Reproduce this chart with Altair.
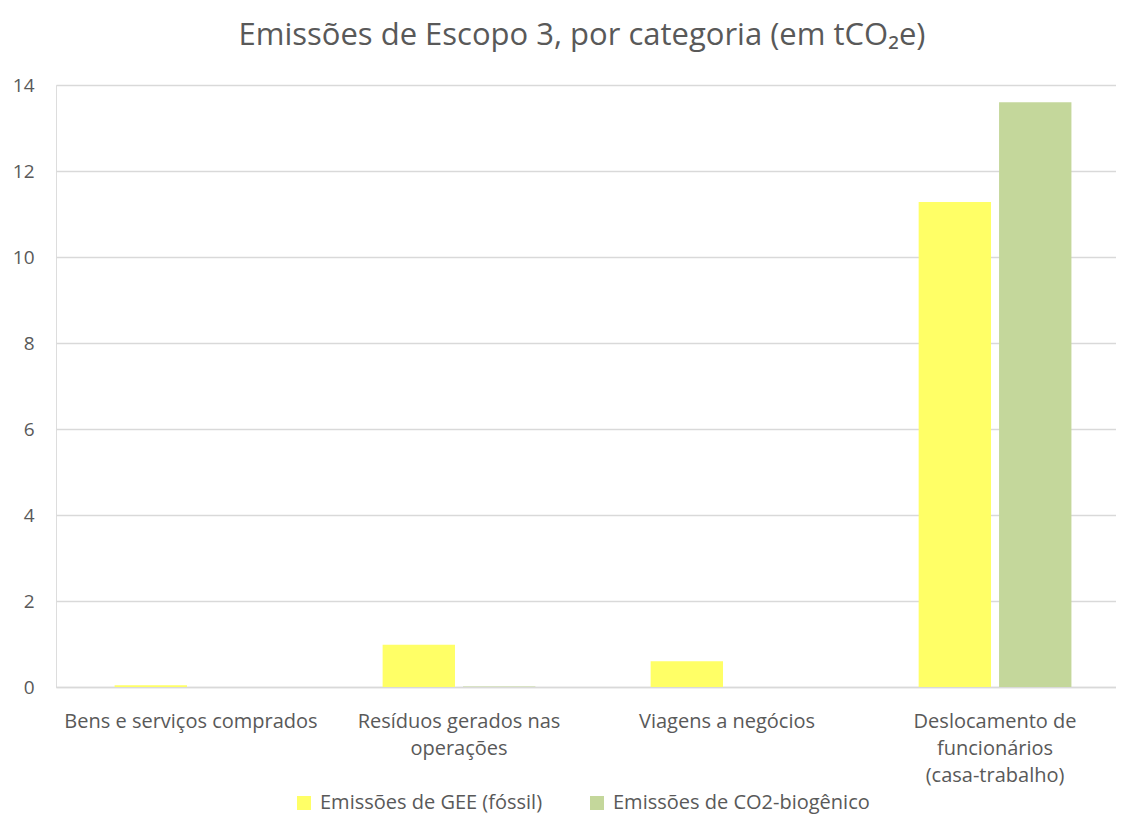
import altair as alt
import pandas as pd

categories = ["Bens e serviços comprados", "Resíduos gerados nas|operações",
              "Viagens a negócios", "Deslocamento de|funcionários|(casa-trabalho)"]
series = ["Emissões de GEE (fóssil)", "Emissões de CO2-biogênico"]
fossil = [0.04, 0.98, 0.60, 11.28]
biogenic = [0.0, 0.01, 0.0, 13.6]
colors = ["#FFFF66", "#C4D79B"]

rows = []
for c, f, b in zip(categories, fossil, biogenic):
    rows.append({"cat": c, "series": series[0], "value": f})
    rows.append({"cat": c, "series": series[1], "value": b})
df = pd.DataFrame(rows)

font = "Open Sans"
chart = alt.Chart(df).mark_bar().encode(
    x=alt.X("cat:N", sort=categories, title=None,
            scale=alt.Scale(paddingInner=0.43, paddingOuter=0.1925, align=0.568),
            axis=alt.Axis(labelAngle=0, labelExpr="split(datum.label, '|')",
                          labelFontSize=20, labelColor="#595959", labelFont=font,
                          labelLineHeight=27, ticks=False, domainColor="#D9D9D9",
                          domainWidth=1.5, labelPadding=24, labelBaseline="top",
                          labelLimit=400)),
    xOffset=alt.XOffset("series:N", sort=series, scale=alt.Scale(paddingInner=0.1)),
    y=alt.Y("value:Q", title=None,
            scale=alt.Scale(domain=[0, 14], nice=False),
            axis=alt.Axis(values=[0, 2, 4, 6, 8, 10, 12, 14], grid=True,
                          gridColor="#D9D9D9", gridWidth=1.5, domain=False, ticks=False,
                          labelFontSize=19, labelColor="#595959", labelFont=font,
                          labelPadding=22)),
    color=alt.Color("series:N", sort=series,
                    scale=alt.Scale(domain=series, range=colors),
                    legend=alt.Legend(title=None, orient="none", direction="horizontal",
                                      legendX=238, legendY=708,
                                      symbolType="square", symbolSize=196,
                                      labelFontSize=20, labelColor="#595959",
                                      labelFont=font, columnPadding=44, labelLimit=400,
                                      labelOffset=6, symbolStrokeWidth=0)),
).properties(
    width=1060, height=602,
    title=alt.TitleParams("Emissões de Escopo 3, por categoria (em tCO₂e)",
                          fontSize=31, font=font, color="#595959",
                          fontWeight="normal", offset=24, anchor="middle", dx=-4),
).configure_view(stroke=None).configure(padding={"left": 4, "top": 12, "right": 0, "bottom": 2})

chart.save("out.html", embed_options={"renderer": "svg", "actions": False})
